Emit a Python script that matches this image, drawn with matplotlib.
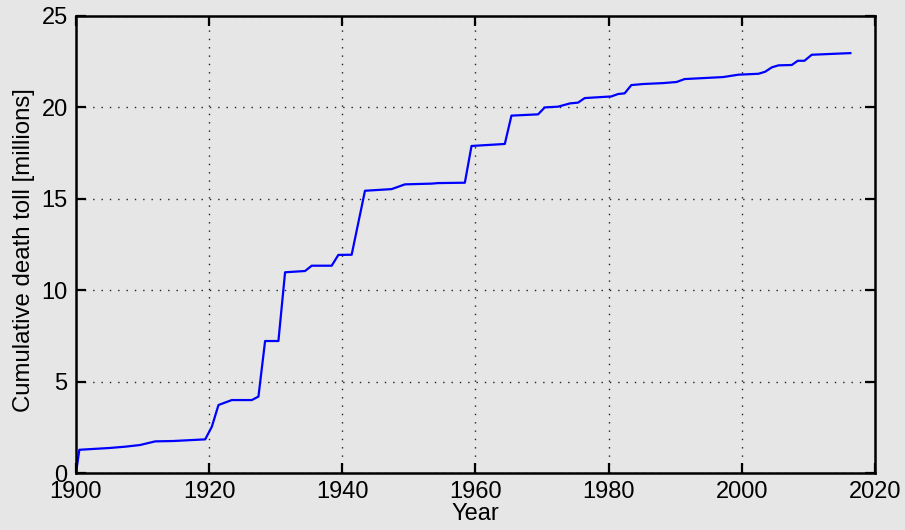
import matplotlib
matplotlib.use("Agg")
import matplotlib.pyplot as plt

years = [1900.0, 1900.5, 1905.1, 1907.4, 1909.6, 1911.9, 1914.6, 1919.4, 1920.4, 1921.4,
         1923.4, 1926.4, 1927.4, 1928.4, 1930.4, 1931.4, 1934.4, 1935.4, 1938.4, 1939.4,
         1941.4, 1943.4, 1947.4, 1949.4, 1953.4, 1954.4, 1958.4, 1959.4, 1964.4, 1965.4,
         1969.4, 1970.4, 1972.4, 1974.2, 1975.4, 1976.4, 1980.4, 1981.4, 1982.4, 1983.4,
         1985.2, 1988.2, 1990.2, 1991.4, 1997.2, 1999.5, 2002.5, 2003.5, 2004.5, 2005.5,
         2007.5, 2008.4, 2009.4, 2010.5, 2016.3]
toll = [0.0, 1.27, 1.37, 1.44, 1.53, 1.73, 1.75, 1.84, 2.53, 3.72,
        3.99, 3.99, 4.18, 7.22, 7.22, 10.98, 11.05, 11.34, 11.34, 11.93,
        11.94, 15.44, 15.53, 15.79, 15.83, 15.86, 15.88, 17.89, 18.0, 19.55,
        19.62, 20.0, 20.04, 20.22, 20.26, 20.51, 20.6, 20.73, 20.77, 21.22,
        21.28, 21.33, 21.39, 21.55, 21.66, 21.79, 21.84, 21.95, 22.19, 22.3,
        22.32, 22.55, 22.55, 22.88, 22.97]

xticks = [1900, 1920, 1940, 1960, 1980, 2000, 2020]
yticks = [0, 5, 10, 15, 20, 25]

bg = "#e6e6e6"
plt.rcParams['font.family'] = ['Liberation Sans', 'DejaVu Sans']

fig = plt.figure(figsize=(9.05, 5.30), dpi=100, facecolor=bg)
ax = fig.add_axes([76/905, 57/530, 799/905, 457/530], facecolor=bg)

ax.plot(years, toll, color="#0000ff", lw=1.6)
ax.set_xlim(1900, 2020)
ax.set_ylim(0, 25)
ax.set_xticks(xticks)
ax.set_yticks(yticks)
ax.grid(True, color="#222222", linestyle=(0, (1, 5)), linewidth=1.0)
ax.tick_params(direction="in", length=7, width=1.6, labelsize=17, top=True, right=True,
               pad=6, colors="black")
for s in ax.spines.values():
    s.set_linewidth(1.8)
ax.set_xlabel("Year", fontsize=17, labelpad=0)
ax.set_ylabel("Cumulative death toll [millions]", fontsize=17.3)
ax.yaxis.set_label_coords(-0.051, 0.487)

fig.savefig("out.png", dpi=100, facecolor=bg)
